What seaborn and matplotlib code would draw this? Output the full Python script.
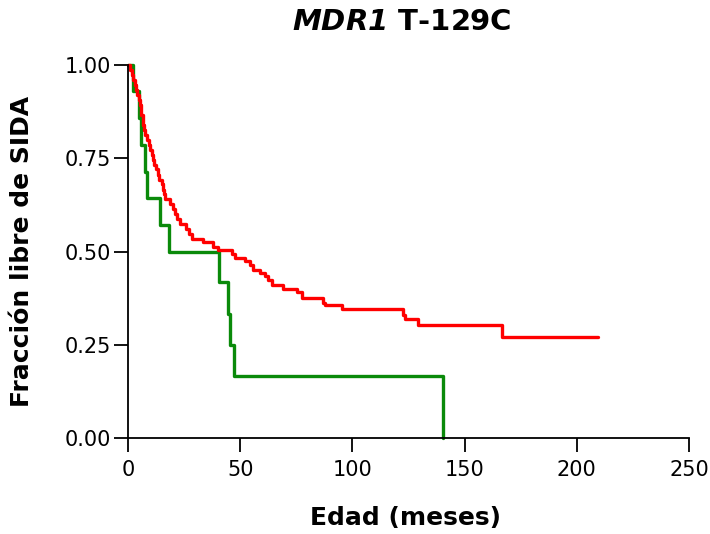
import matplotlib
matplotlib.use("Agg")
import matplotlib.pyplot as plt
import seaborn as sns
import pandas as pd
from matplotlib.ticker import FormatStrFormatter

# ---- data ----
green_t = [0, 2.2, 5.0, 6.0, 7.6, 8.5, 14.3, 18.3, 40.6, 44.5, 45.3, 47.3, 140.2]
green_s = [1.0, 0.929, 0.857, 0.786, 0.714, 0.643, 0.571, 0.500, 0.417, 0.333, 0.250, 0.167, 0.0]

red_t = [0, 0.5, 1.0, 1.8, 2.4, 3.0, 3.5, 4.0, 4.7, 5.2, 5.6, 6.0, 6.5, 6.9, 7.3, 7.7,
         8.5, 9.2, 9.9, 10.7, 11.2, 11.8, 12.5, 13.2, 14.0, 15.0, 15.5, 15.9, 16.5,
         18.7, 20.2, 21.0, 22.0, 23.2, 26.0, 27.0, 28.4, 33.4, 37.9, 40.1, 46.2, 47.7,
         52.0, 54.4, 55.7, 58.8, 61.0, 62.4, 64.0, 69.1, 75.2, 77.4, 86.9, 87.8, 95.2,
         122.5, 123.4, 129.2, 166.7, 209.4]
red_s = [1.0, 1.0, 0.987, 0.974, 0.960, 0.947, 0.933, 0.920, 0.906, 0.893, 0.880, 0.866,
         0.853, 0.840, 0.826, 0.813, 0.800, 0.786, 0.773, 0.759, 0.746, 0.733, 0.720,
         0.706, 0.693, 0.680, 0.666, 0.653, 0.640, 0.627, 0.613, 0.600, 0.587, 0.573,
         0.560, 0.547, 0.533, 0.526, 0.513, 0.503, 0.494, 0.483, 0.474, 0.464, 0.450,
         0.443, 0.433, 0.424, 0.410, 0.399, 0.392, 0.375, 0.363, 0.357, 0.346, 0.330,
         0.319, 0.303, 0.271, 0.271]

groups = ["grupo 1", "grupo 2"]
colors = ["#0a8a0a", "#ff0000"]

x_ticks = [0, 50, 100, 150, 200, 250]
y_ticks = [0.00, 0.25, 0.50, 0.75, 1.00]

title_italic = "MDR1"
title_rest = "T-129C"
xlabel = "Edad (meses)"
ylabel = "Fracción libre de SIDA"

df = pd.concat([
    pd.DataFrame({"t": green_t, "S": green_s, "g": groups[0]}),
    pd.DataFrame({"t": red_t, "S": red_s, "g": groups[1]}),
], ignore_index=True)

sns.set_style("ticks")
plt.rcParams["font.family"] = ["DejaVu Sans"]
plt.rcParams["text.color"] = "black"
plt.rcParams["mathtext.fontset"] = "custom"
plt.rcParams["mathtext.bfit"] = "DejaVu Sans:italic:bold"
plt.rcParams["mathtext.bf"] = "DejaVu Sans:bold"

W, H = 710, 534
fig = plt.figure(figsize=(W / 100, H / 100), dpi=100)
ax = fig.add_axes([128 / W, 1 - 438 / H, 561 / W, 373 / H])

sns.lineplot(data=df, x="t", y="S", hue="g", hue_order=groups,
             palette=dict(zip(groups, colors)), drawstyle="steps-post",
             estimator=None, sort=False, legend=False, linewidth=2.4,
             clip_on=False, ax=ax)

ax.set_xlim(0, 250)
ax.set_ylim(0, 1)
ax.set_xticks(x_ticks)
ax.set_yticks(y_ticks)
ax.yaxis.set_major_formatter(FormatStrFormatter("%.2f"))
ax.xaxis.set_major_formatter(FormatStrFormatter("%d"))
for s in ["top", "right"]:
    ax.spines[s].set_visible(False)
for s in ["left", "bottom"]:
    ax.spines[s].set_linewidth(1.3)
    ax.spines[s].set_color("black")
ax.tick_params(axis="both", direction="out", length=10, width=1.3,
               color="black", labelsize=15, labelcolor="black")
ax.tick_params(axis="y", pad=2)
ax.tick_params(axis="x", pad=6)
ax.set_xlabel("")
ax.set_ylabel("")

fig.text(402 / W, 1 - 30 / H, r"$\mathbfit{" + title_italic + r"}$ " + title_rest,
         ha="center", va="baseline", fontsize=21, fontweight="bold", color="black")
fig.text(405 / W, 1 - 525 / H, xlabel, ha="center", va="baseline",
         fontsize=18, fontweight="bold", color="black")
fig.text(10 / W, 1 - 251 / H, ylabel, ha="left", va="center", rotation=90,
         fontsize=18, fontweight="bold", color="black")

fig.savefig("out.png", dpi=100)
